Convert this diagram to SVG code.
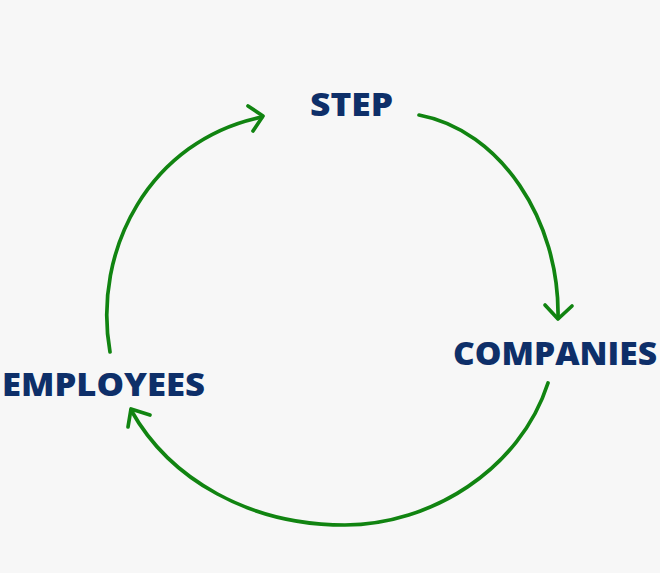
<svg xmlns="http://www.w3.org/2000/svg" width="660" height="573" viewBox="0 0 660 573">
<style>
.lbl{font-family:"Open Sans","DejaVu Sans",sans-serif;font-weight:800;font-size:31px;fill:#0e2f69}
.arc{fill:none;stroke:#118411;stroke-width:3.7;stroke-linecap:round;stroke-linejoin:round}
</style>
<rect width="660" height="573" fill="#f7f7f7"/>
<g id="connectors">
<path class="arc" d="M110,352 C92,250 150,140 262,117"/>
<path class="arc" d="M248,106 L263,116 L253,131"/>
<path class="arc" d="M419,115 C500,130 560,220 558,318"/>
<path class="arc" d="M545,305 L558,319 L572,306"/>
<path class="arc" d="M548,383 C520,470 430,525 345,525 C250,525 170,480 131,410"/>
<path class="arc" d="M150,415 L131,409 L128,427"/>
</g>
<g id="step"><text class="lbl" x="310" y="116" textLength="83" lengthAdjust="spacingAndGlyphs">STEP</text></g>
<g id="companies"><text class="lbl" x="453" y="365" textLength="204" lengthAdjust="spacingAndGlyphs">COMPANIES</text></g>
<g id="employees"><text class="lbl" x="2" y="396" textLength="203" lengthAdjust="spacingAndGlyphs">EMPLOYEES</text></g>
</svg>
